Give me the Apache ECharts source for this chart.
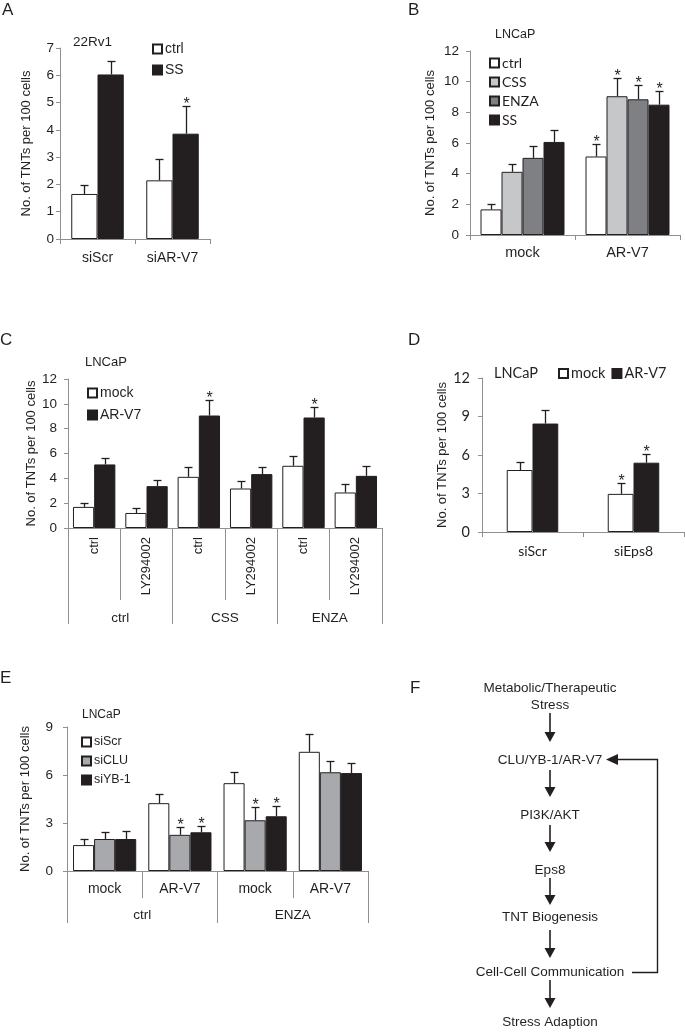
<!DOCTYPE html>
<html><head><meta charset="utf-8">
<script src="https://cdn.jsdelivr.net/npm/echarts@6/dist/echarts.min.js"></script>
<style>html,body{margin:0;padding:0;background:#fff}#c{width:685px;height:1032px}</style>
</head><body><div id="c"></div><script>
// ---------- DATA ----------
// Panel A (22Rv1)
const A_categories = ['siScr', 'siAR-V7'];
const A_ctrl = [1.65, 2.15];
const A_ctrl_err = [0.34, 0.79];
const A_ctrl_sig = [0, 0];
const A_SS = [6.03, 3.86];
const A_SS_err = [0.48, 1.0];
const A_SS_sig = [0, 1];
const A_yTicks = [0, 7, 1];

// Panel B (LNCaP)
const B_categories = ['mock', 'AR-V7'];
const B_ctrl = [1.67, 5.12];
const B_ctrl_err = [0.35, 0.80];
const B_ctrl_sig = [0, 1];
const B_CSS = [4.12, 9.05];
const B_CSS_err = [0.48, 1.21];
const B_CSS_sig = [0, 1];
const B_ENZA = [5.03, 8.85];
const B_ENZA_err = [0.78, 0.95];
const B_ENZA_sig = [0, 1];
const B_SS = [6.07, 8.50];
const B_SS_err = [0.81, 0.89];
const B_SS_sig = [0, 1];
const B_yTicks = [0, 12, 2];

// Panel C (LNCaP)
const C_inner = ['ctrl', 'LY294002', 'ctrl', 'LY294002', 'ctrl', 'LY294002'];
const C_outer = ['ctrl', 'CSS', 'ENZA'];
const C_mock = [1.70, 1.21, 4.12, 3.18, 5.01, 2.86];
const C_mock_err = [0.32, 0.41, 0.81, 0.62, 0.79, 0.67];
const C_mock_sig = [0, 0, 0, 0, 0, 0];
const C_ARV7 = [5.12, 3.37, 9.06, 4.34, 8.90, 4.20];
const C_ARV7_err = [0.48, 0.53, 1.24, 0.59, 0.88, 0.80];
const C_ARV7_sig = [0, 0, 1, 0, 1, 0];
const C_yTicks = [0, 12, 2];

// Panel D (LNCaP)
const D_categories = ['siScr', 'siEps8'];
const D_mock = [4.83, 2.97];
const D_mock_err = [0.65, 0.83];
const D_mock_sig = [0, 1];
const D_ARV7 = [8.45, 5.40];
const D_ARV7_err = [1.03, 0.65];
const D_ARV7_sig = [0, 1];
const D_yTicks = [0, 12, 3];

// Panel E (LNCaP)
const E_inner = ['mock', 'AR-V7', 'mock', 'AR-V7'];
const E_outer = ['ctrl', 'ENZA'];
const E_siScr = [1.62, 4.24, 5.49, 7.45];
const E_siScr_err = [0.35, 0.58, 0.68, 1.14];
const E_siScr_sig = [0, 0, 0, 0];
const E_siCLU = [2.00, 2.26, 3.17, 6.17];
const E_siCLU_err = [0.45, 0.47, 0.83, 0.68];
const E_siCLU_sig = [0, 1, 1, 0];
const E_siYB1 = [2.00, 2.42, 3.42, 6.12];
const E_siYB1_err = [0.52, 0.40, 0.64, 0.60];
const E_siYB1_sig = [0, 1, 1, 0];
const E_yTicks = [0, 9, 3];

// Panel F (pathway)
const F_steps = ['Metabolic/Therapeutic\nStress', 'CLU/YB-1/AR-V7', 'PI3K/AKT', 'Eps8',
  'TNT Biogenesis', 'Cell-Cell Communication', 'Stress Adaption'];

const Y_TITLE = 'No. of TNTs per 100 cells';

// ---------- STYLE ----------
const FONT = '"Liberation Sans", Arial, sans-serif';
const FONT2 = 'Lato, "Liberation Sans", sans-serif';
const AXC = '#8f8f8f';
const TXT = '#231f20';
const BLK = '#231f20';
const WHITE = '#ffffff';
const GREY_L = '#c6c7c9';
const GREY_M = '#7f8083';
const GREY_E = '#a7a9ac';

function barSeries(name, data, color, xi, yi, gap) {
  return {
    type: 'bar', name: name, data: data, xAxisIndex: xi, yAxisIndex: yi,
    barGap: '0%', barCategoryGap: gap + '%',
    itemStyle: { color: color, borderColor: BLK, borderWidth: 1 },
    emphasis: { disabled: true }, silent: true, animation: false, z: 2
  };
}
function errSeries(vals, errs, sigs, k, n, gap, xi, yi) {
  const data = vals.map((v, i) => [i, v, v + errs[i], sigs[i]]);
  const g = gap / 100;
  return {
    type: 'custom', xAxisIndex: xi, yAxisIndex: yi, data: data, z: 5,
    silent: true, animation: false, encode: { x: 0, y: 2 },
    renderItem: function (params, api) {
      const i = api.value(0);
      const base = api.coord([i, 0]);
      const bandW = api.size([1, 0])[0];
      const groupW = bandW * (1 - g);
      const bw = groupW / n;
      const x = Math.round(base[0] - groupW / 2 + (k + 0.5) * bw) + 0.5;
      const yBar = api.coord([i, api.value(1)])[1];
      const yTop = Math.round(api.coord([i, api.value(2)])[1]) + 0.5;
      const cap = 4;
      const ch = [
        { type: 'line', shape: { x1: x, y1: yBar, x2: x, y2: yTop }, style: { stroke: BLK, lineWidth: 1.3 } },
        { type: 'line', shape: { x1: x - cap, y1: yTop, x2: x + cap, y2: yTop }, style: { stroke: BLK, lineWidth: 1.3 } }
      ];
      if (api.value(3)) {
        ch.push({ type: 'text', x: x, y: yTop - 2,
          style: { text: '*', font: '16px ' + FONT, fill: BLK, align: 'center', verticalAlign: 'middle' } });
      }
      return { type: 'group', children: ch };
    }
  };
}
function yAxis(gi, t, gap, lblMargin, font, fs) {
  return {
    type: 'value', gridIndex: gi, min: t[0], max: t[1], interval: t[2],
    name: Y_TITLE, nameLocation: 'middle', nameGap: gap,
    nameTextStyle: { fontFamily: FONT, fontSize: 13, color: TXT },
    axisLine: { show: true, lineStyle: { color: AXC, width: 1 } },
    axisTick: { show: true, length: 4, lineStyle: { color: AXC } },
    axisLabel: { margin: lblMargin, fontFamily: font || FONT, fontSize: fs || 13.5, color: TXT },
    splitLine: { show: false }
  };
}
function xAxis(gi, cats, o) {
  o = o || {};
  return {
    type: 'category', gridIndex: gi, data: cats, position: 'bottom',
    axisLine: { show: o.line !== false, onZero: false, lineStyle: { color: AXC, width: 1 } },
    axisTick: { show: true, length: o.tick || 5, lineStyle: { color: AXC } },
    axisLabel: { interval: 0, margin: o.margin || 12, rotate: o.rotate || 0,
      fontFamily: o.font || FONT, fontSize: o.fs || 14, color: TXT },
    splitLine: { show: false }
  };
}
function legend(names, left, top, gap, orient, font, fs) {
  return {
    data: names, left: left, top: top, orient: orient || 'vertical', itemGap: gap,
    itemWidth: 9, itemHeight: 9, icon: 'rect', padding: 0, selectedMode: false,
    textStyle: { fontFamily: font || FONT, fontSize: fs || 13, color: TXT, lineHeight: 14, padding: [0, 0, 0, -2] }
  };
}
function txt(s, x, y, fs, font, align) {
  return { type: 'text', x: x, y: y, silent: true,
    style: { text: s, font: fs + 'px ' + (font || FONT), fill: TXT, align: align || 'left', verticalAlign: 'middle', lineHeight: 17 } };
}
function arrowDown(x, y1, y2) {
  return [
    { type: 'line', silent: true, shape: { x1: x, y1: y1, x2: x, y2: y2 - 8 }, style: { stroke: BLK, lineWidth: 1.6 } },
    { type: 'polygon', silent: true, shape: { points: [[x - 5.5, y2 - 10], [x + 5.5, y2 - 10], [x, y2]] }, style: { fill: BLK } }
  ];
}

// ---------- OPTION ----------
const grids = [
  { left: 60, top: 48, width: 150, height: 191 },   // A
  { left: 470, top: 51, width: 210, height: 184 },  // B
  { left: 68, top: 379, width: 314, height: 149 },  // C
  { left: 482, top: 378, width: 202, height: 154 }, // D
  { left: 67, top: 727, width: 301, height: 144 }   // E
];

const xAxes = [
  xAxis(0, A_categories, { margin: 12, fs: 14 }),                 // 0
  xAxis(1, B_categories, { margin: 10, fs: 14.5 }),               // 1
  xAxis(2, C_inner, { tick: 72, rotate: 90, margin: 9, fs: 13 }), // 2
  xAxis(2, C_outer, { tick: 96, margin: 83, line: false, fs: 13.5 }), // 3
  xAxis(3, D_categories, { margin: 12, font: FONT2, fs: 14 }),     // 4
  xAxis(4, E_inner, { tick: 27, margin: 11, fs: 14 }),             // 5
  xAxis(4, E_outer, { tick: 52, margin: 37, line: false, fs: 13.5 }) // 6
];
const yAxes = [
  yAxis(0, A_yTicks, 27, 6),
  yAxis(1, B_yTicks, 33, 11),
  yAxis(2, C_yTicks, 28, 11),
  yAxis(3, D_yTicks, 32, 12, FONT2, 14.5),
  yAxis(4, E_yTicks, 35, 14)
];

const gA = 30, gB = 20, gC = 19, gD = 49, gE = 16;
const series = [
  barSeries('ctrl', A_ctrl, WHITE, 0, 0, gA),
  barSeries('SS', A_SS, BLK, 0, 0, gA),
  errSeries(A_ctrl, A_ctrl_err, A_ctrl_sig, 0, 2, gA, 0, 0),
  errSeries(A_SS, A_SS_err, A_SS_sig, 1, 2, gA, 0, 0),

  barSeries('ctrl', B_ctrl, WHITE, 1, 1, gB),
  barSeries('CSS', B_CSS, GREY_L, 1, 1, gB),
  barSeries('ENZA', B_ENZA, GREY_M, 1, 1, gB),
  barSeries('SS', B_SS, BLK, 1, 1, gB),
  errSeries(B_ctrl, B_ctrl_err, B_ctrl_sig, 0, 4, gB, 1, 1),
  errSeries(B_CSS, B_CSS_err, B_CSS_sig, 1, 4, gB, 1, 1),
  errSeries(B_ENZA, B_ENZA_err, B_ENZA_sig, 2, 4, gB, 1, 1),
  errSeries(B_SS, B_SS_err, B_SS_sig, 3, 4, gB, 1, 1),

  barSeries('mock', C_mock, WHITE, 2, 2, gC),
  barSeries('AR-V7', C_ARV7, BLK, 2, 2, gC),
  errSeries(C_mock, C_mock_err, C_mock_sig, 0, 2, gC, 2, 2),
  errSeries(C_ARV7, C_ARV7_err, C_ARV7_sig, 1, 2, gC, 2, 2),

  barSeries('mock', D_mock, WHITE, 4, 3, gD),
  barSeries('AR-V7', D_ARV7, BLK, 4, 3, gD),
  errSeries(D_mock, D_mock_err, D_mock_sig, 0, 2, gD, 4, 3),
  errSeries(D_ARV7, D_ARV7_err, D_ARV7_sig, 1, 2, gD, 4, 3),

  barSeries('siScr', E_siScr, WHITE, 5, 4, gE),
  barSeries('siCLU', E_siCLU, GREY_E, 5, 4, gE),
  barSeries('siYB-1', E_siYB1, BLK, 5, 4, gE),
  errSeries(E_siScr, E_siScr_err, E_siScr_sig, 0, 3, gE, 5, 4),
  errSeries(E_siCLU, E_siCLU_err, E_siCLU_sig, 1, 3, gE, 5, 4),
  errSeries(E_siYB1, E_siYB1_err, E_siYB1_sig, 2, 3, gE, 5, 4)
];

const legends = [
  legend(['ctrl', 'SS'], 152, 42, 7, 'vertical', FONT, 14),
  legend(['ctrl', 'CSS', 'ENZA', 'SS'], 489, 56, 5, 'vertical', FONT2, 14),
  legend(['mock', 'AR-V7'], 87, 386, 8, 'vertical', FONT, 14),
  legend(['mock', 'AR-V7'], 558, 366, 6, 'horizontal', FONT2, 14.5),
  legend(['siScr', 'siCLU', 'siYB-1'], 81, 735, 5, 'vertical', FONT, 12.5)
];

// Flow chart (panel F)
const fx = 550;
const F_y = [697, 760, 815, 870, 917, 972, 1022];
const F_arrows = [[713, 742], [770, 797], [825, 852], [878, 905], [930, 958], [980, 1008]];
let graphics = [
  txt('A', 2, 10, 17), txt('B', 408, 10, 17), txt('C', 0, 340, 17),
  txt('D', 408, 340, 17), txt('E', 0, 678, 17), txt('F', 410, 688, 17),
  txt('22Rv1', 73, 42, 13.5), txt('LNCaP', 495, 35, 12.5), txt('LNCaP', 85, 362, 13),
  txt('LNCaP', 494, 373, 14.5, FONT2), txt('LNCaP', 82, 715, 12)
];
F_steps.forEach((s, i) => graphics.push(txt(s, fx, F_y[i], 13.5, FONT, 'center')));
F_arrows.forEach(a => { graphics = graphics.concat(arrowDown(fx, a[0], a[1])); });
graphics.push({ type: 'polyline', silent: true,
  shape: { points: [[632, 972.5], [657.5, 972.5], [657.5, 759.5], [617, 759.5]] },
  style: { stroke: BLK, lineWidth: 1.4, fill: null } });
graphics.push({ type: 'polygon', silent: true,
  shape: { points: [[606, 759.5], [618, 754], [618, 765]] }, style: { fill: BLK } });

const option = {
  backgroundColor: '#ffffff',
  animation: false,
  textStyle: { fontFamily: FONT },
  grid: grids,
  xAxis: xAxes,
  yAxis: yAxes,
  legend: legends,
  series: series,
  graphic: graphics
};
const chart = echarts.init(document.getElementById('c'), null, { renderer: 'canvas' });
chart.setOption(option);
</script></body></html>
